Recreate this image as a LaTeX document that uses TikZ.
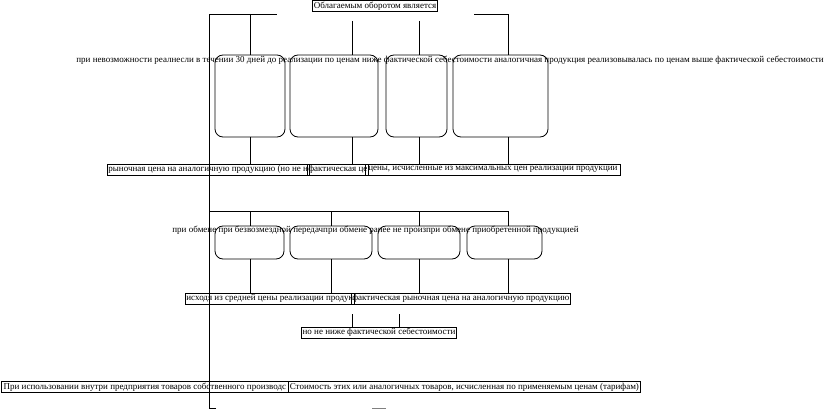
\documentclass[tikz,border=0pt]{standalone}
\usepackage{fontspec}
\setmainfont{Liberation Serif}
\usetikzlibrary{positioning}

\begin{document}
\begin{tikzpicture}[
    x=1pt, y=-1pt,
    line width=0.8pt,
    rbox/.style={draw, rounded corners=8pt, inner sep=0pt},
    tbox/.style={draw, anchor=west, inner sep=1pt, minimum height=11pt, font=\fontsize{9}{9}\selectfont},
    lbl/.style={anchor=west, inner sep=0pt, font=\fontsize{9}{9}\selectfont},
    link/.style={draw, line width=0.8pt}
]
    \useasboundingbox (0,0) rectangle (827,409);

    % Title
    \node[tbox, anchor=center, minimum width=124pt] (title) at (375,6) {Облагаемым оборотом является};

    % First row of rounded boxes
    \node[rbox, minimum width=70pt, minimum height=82pt] (r1a) at (250,96) {};
    \node[rbox, minimum width=88pt, minimum height=82pt] (r1b) at (334,96) {};
    \node[rbox, minimum width=61pt, minimum height=82pt] (r1c) at (416.5,96) {};
    \node[rbox, minimum width=95pt, minimum height=82pt] (r1d) at (500.5,96) {};
    \node[lbl] (l1) at (76,60) {при невозможности реалнесли в течении 30 дней до реализации по ценам ниже фактической себестоимости аналогичная продукция реализовывалась по ценам выше фактической себестоимости};

    % Prices for the first row
    \node[tbox, minimum width=200pt] (pa) at (107,169.5) {рыночная цена на аналогичную продукцию (но не н};
    \node[tbox, minimum width=58pt] (pb) at (307,169.5) {фактическая це};
    \node[tbox, minimum width=255pt] (pc) at (365,169.5) {цены, исчисленные из максимальных цен реализации продукции};

    % Second row of rounded boxes
    \node[rbox, minimum width=69pt, minimum height=33pt] (r2a) at (249.5,242.5) {};
    \node[rbox, minimum width=82pt, minimum height=33pt] (r2b) at (331,242.5) {};
    \node[rbox, minimum width=82pt, minimum height=33pt] (r2c) at (419,242.5) {};
    \node[rbox, minimum width=75pt, minimum height=33pt] (r2d) at (504.5,242.5) {};
    \node[lbl] (l2) at (172,230) {при обмене при безвозмездной передачпри обмене ранее не произпри обмене приобретенной продукцией};

    % Prices for the second row
    \node[tbox, minimum width=166pt] (qa) at (185,298.5) {исходя из средней цены реализации продук};
    \node[tbox, minimum width=219pt] (qb) at (351,298.5) {фактическая рыночная цена на аналогичную продукцию};
    \node[tbox, anchor=center, minimum width=154pt] (floor) at (379,332.5) {но не ниже фактической себестоимости};

    % Own production
    \node[tbox, minimum width=287pt] (ba) at (1,387) {При использовании внутри предприятия товаров собственного производс};
    \node[tbox, minimum width=352pt] (bb) at (288,387) {Стоимость этих или аналогичных товаров, исчисленная по применяемым ценам (тарифам)};

    % Coordinates of the branch lines
    \coordinate (s0) at (209,14);
    \coordinate (s1) at (277,14);
    \coordinate (s2) at (474,14);
    \coordinate (s3) at (508,14);
    \coordinate (c1) at (250,14);
    \coordinate (c2) at (352,21);
    \coordinate (c3) at (419,21);
    \coordinate (d0) at (209,211);
    \coordinate (d1) at (250,211);
    \coordinate (d2) at (331,211);
    \coordinate (d3) at (419,211);
    \coordinate (d4) at (508,211);
    \coordinate (e1) at (352,314);
    \coordinate (e2) at (399,314);
    \coordinate (send) at (209,408);
    \coordinate (stick) at (216,408);

    % Spine and top branches
    \draw[link] (stick) -- (send) -- (s0) -- (s1);
    \draw[link] (s2) -- (s3) -- (s3 |- r1d.north);
    \draw[link] (c1) -- (c1 |- r1a.north);
    \draw[link] (c2) -- (c2 |- r1b.north);
    \draw[link] (c3) -- (c3 |- r1c.north);

    % First row down to prices
    \draw[link] (c1 |- r1a.south) -- (c1 |- pa.north);
    \draw[link] (c2 |- r1b.south) -- (c2 |- pb.north);
    \draw[link] (c3 |- r1c.south) -- (c3 |- pc.north);
    \draw[link] (s3 |- r1d.south) -- (s3 |- pc.north);

    % Second row branches
    \draw[link] (d0) -- (d4);
    \draw[link] (d1) -- (d1 |- r2a.north);
    \draw[link] (d2) -- (d2 |- r2b.north);
    \draw[link] (d3) -- (d3 |- r2c.north);
    \draw[link] (d4) -- (d4 |- r2d.north);
    \draw[link] (d1 |- r2a.south) -- (d1 |- qa.north);
    \draw[link] (d2 |- r2b.south) -- (d2 |- qa.north);
    \draw[link] (d3 |- r2c.south) -- (d3 |- qb.north);
    \draw[link] (d4 |- r2d.south) -- (d4 |- qb.north);

    % Lower limit
    \draw[link] (e1) -- (e1 |- floor.north);
    \draw[link] (e2) -- (e2 |- floor.north);

    % Cut-off mark at the bottom
    \draw[link, gray] (372,408) -- (386,408);
\end{tikzpicture}
\end{document}
